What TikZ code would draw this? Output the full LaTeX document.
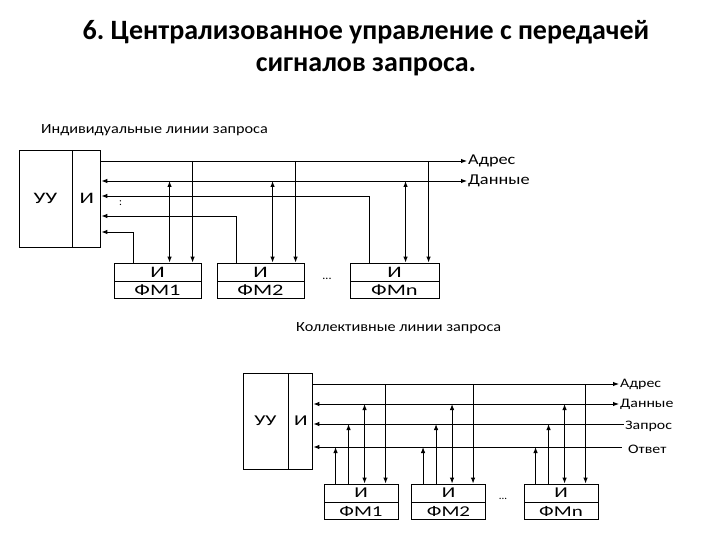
\documentclass[tikz,border=0pt]{standalone}
\usepackage{fontspec}
\setmainfont{Carlito}
\newfontfamily\boxfont[FakeStretch=1.4]{Carlito}
\newfontfamily\lblfont[FakeStretch=1.22]{Carlito}
\newfontfamily\capfont[FakeStretch=1.16]{Carlito}
\usetikzlibrary{arrows.meta,positioning}
\frenchspacing
\tikzset{
  ln/.style={line width=0.9pt},
  blk/.style={draw, ln, inner sep=0pt},
  lbl/.style={inner sep=1pt, anchor=west},
  >={Latex[length=6pt,width=4.5pt]}
}
\begin{document}
\begin{tikzpicture}[x=1pt,y=-1pt]
    \useasboundingbox (0,0) rectangle (720,540);
    % title
    \node[font=\fontsize{28}{32}\selectfont\bfseries, align=center] (ttl) at (366,48)
      {6. Централизованное управление с передачей\\сигналов запроса.};
    \node[lbl, font=\capfont\fontsize{14}{14}\selectfont] (cap1) at (40,130) {Индивидуальные линии запроса};
    \node[lbl, font=\capfont\fontsize{14}{14}\selectfont] (cap2) at (295,328) {Коллективные линии запроса};

    % ---- individual request lines ----
    \node[blk, minimum width=53pt, minimum height=97pt, font=\boxfont\fontsize{16}{16}\selectfont] (uu1) at (45.5,198.5) {УУ};
    \node[blk, minimum width=28pt, minimum height=97pt, font=\boxfont\fontsize{16}{16}\selectfont, right=0pt of uu1] (ui1) {И};
    \foreach \m/\t/\x/\w in {1/ФМ1/157.5/87, 2/ФМ2/260.5/87, n/ФМn/394.5/89}{
      \node[blk, minimum width=\w pt, minimum height=18pt, font=\boxfont\fontsize{16}{16}\selectfont] (ft\m) at (\x,272) {И};
      \node[blk, minimum width=\w pt, minimum height=17pt, font=\boxfont\fontsize{16}{16}\selectfont, below=0pt of ft\m] (fb\m) {\t};
      \coordinate (fu\m) at ([xshift=20pt]ft\m.north west);
      \coordinate (fd\m) at ([xshift=56pt]ft\m.north west);
      \coordinate (fa\m) at ([xshift=79pt]ft\m.north west);
    }
    \node[font=\fontsize{12}{12}\selectfont] (dots1) at (327,279) {...};
    \node[font=\fontsize{11}{11}\selectfont] (vd1) at (120.5,203) {:};
    % bus lines
    \node[lbl, font=\lblfont\fontsize{15}{15}\selectfont] (adr1) at (467,161) {Адрес};
    \node[lbl, font=\lblfont\fontsize{15}{15}\selectfont] (dan1) at (467,181) {Данные};
    \draw[ln,->] (ui1.east |- adr1) -- (adr1.west);
    \draw[ln,<->] (ui1.east |- dan1) -- (dan1.west);
    \coordinate (lvn) at (0,196);
    \coordinate (lv2) at (0,216);
    \coordinate (lv1) at (0,232);
    \foreach \m in {1,2,n}{
      \draw[ln,<->] (fd\m |- dan1) -- (fd\m);
      \draw[ln,->] (fa\m |- adr1) -- (fa\m);
      \draw[ln,->] (fu\m) |- (ui1.east |- lv\m);
    }

    % ---- collective request lines ----
    \node[blk, minimum width=45pt, minimum height=96pt, font=\boxfont\fontsize{15}{15}\selectfont] (uu2) at (265.5,421) {УУ};
    \node[blk, minimum width=24pt, minimum height=96pt, font=\boxfont\fontsize{15}{15}\selectfont, right=0pt of uu2] (ui2) {И};
    \foreach \m/\t/\x in {1/ФМ1/361, 2/ФМ2/448.5, n/ФМn/561}{
      \node[blk, minimum width=74pt, minimum height=18pt, font=\boxfont\fontsize{15}{15}\selectfont] (gt\m) at (\x,493) {И};
      \node[blk, minimum width=74pt, minimum height=17pt, font=\boxfont\fontsize{15}{15}\selectfont, below=0pt of gt\m] (gb\m) {\t};
      \coordinate (go\m) at ([xshift=12pt]gt\m.north west);
      \coordinate (gz\m) at ([xshift=25pt]gt\m.north west);
      \coordinate (gd\m) at ([xshift=41pt]gt\m.north west);
      \coordinate (ga\m) at ([xshift=62pt]gt\m.north west);
    }
    \node[font=\fontsize{11}{11}\selectfont] (dots2) at (503,499) {...};
    % bus lines
    \node[lbl, font=\lblfont\fontsize{13}{13}\selectfont] (adr2) at (619,384) {Адрес};
    \node[lbl, font=\lblfont\fontsize{13}{13}\selectfont] (dan2) at (619,404) {Данные};
    \node[lbl, font=\lblfont\fontsize{13}{13}\selectfont] (zap2) at (624,426) {Запрос};
    \node[lbl, font=\lblfont\fontsize{13}{13}\selectfont] (otv2) at (627,449) {Ответ};
    \coordinate (lz) at (0,424);
    \coordinate (lo) at (0,447);
    \draw[ln,->] (ui2.east |- adr2) -- (adr2.west);
    \draw[ln,<->] (ui2.east |- dan2) -- (dan2.west);
    \draw[ln,<-] (ui2.east |- lz) -- (zap2.west |- lz);
    \draw[ln,<-] (ui2.east |- lo) -- ([xshift=-5pt]otv2.west |- lo);
    \foreach \m in {1,2,n}{
      \draw[ln,->] (go\m) -- (go\m |- lo);
      \draw[ln,->] (gz\m) -- (gz\m |- lz);
      \draw[ln,<->] (gd\m |- dan2) -- (gd\m);
      \draw[ln,->] (ga\m |- adr2) -- (ga\m);
    }
\end{tikzpicture}
\end{document}
